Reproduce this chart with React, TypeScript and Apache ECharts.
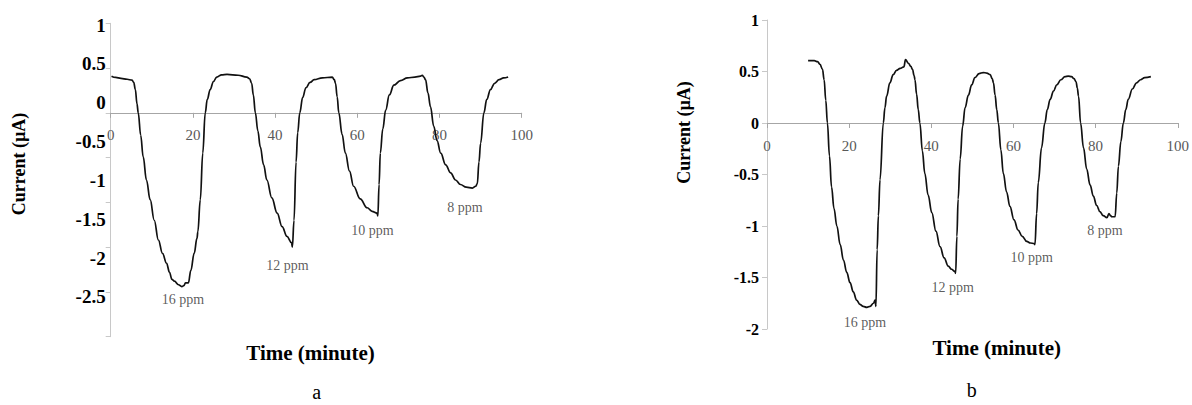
import React, { useEffect, useRef } from "react";
import * as echarts from "echarts";

// ---- Panel a data (time in minutes, current in µA) ----
const timeA = [0.2, 1.2, 2.5, 4.0, 5.2, 5.6, 6.0, 6.4, 6.7, 7.3, 7.9, 8.7, 9.6, 10.6, 11.6, 12.6, 13.6, 14.3, 14.9, 15.5, 16.5, 17.3, 17.8, 18.2, 18.9, 19.5, 20.3, 21.0, 21.2, 21.8, 22.4, 23.0, 23.5, 24.2, 25.0, 25.8, 27.0, 28.3, 31.0, 33.1, 33.8, 34.3, 34.7, 35.2, 35.8, 36.4, 37.2, 38.0, 39.2, 40.5, 41.7, 42.9, 44.0, 44.2, 44.6, 45.1, 45.5, 46.0, 46.7, 47.5, 48.5, 49.5, 51.5, 53.9, 54.4, 54.7, 55.1, 55.5, 56.3, 57.1, 58.1, 59.1, 60.7, 62.4, 63.6, 64.8, 65.0, 65.3, 65.6, 66.2, 66.9, 67.8, 68.9, 70.5, 72.2, 74.0, 75.4, 75.8, 76.2, 76.6, 77.2, 77.8, 78.6, 79.4, 80.3, 81.5, 82.7, 83.9, 85.1, 86.5, 88.0, 88.8, 89.2, 89.6, 90.0, 90.8, 91.5, 92.4, 93.4, 94.5, 95.6, 96.7];
const currentA = [0.41, 0.395, 0.385, 0.375, 0.365, 0.34, 0.26, 0.1, 0.0, -0.25, -0.49, -0.75, -0.97, -1.2, -1.42, -1.57, -1.68, -1.78, -1.86, -1.88, -1.92, -1.94, -1.93, -1.9, -1.9, -1.76, -1.57, -1.4, -1.33, -0.97, -0.45, 0.0, 0.15, 0.26, 0.35, 0.4, 0.425, 0.43, 0.42, 0.4, 0.38, 0.33, 0.2, 0.0, -0.2, -0.38, -0.58, -0.75, -0.95, -1.12, -1.27, -1.38, -1.45, -1.5, -1.2, -0.55, -0.22, 0.0, 0.17, 0.28, 0.34, 0.37, 0.39, 0.4, 0.37, 0.33, 0.18, 0.0, -0.24, -0.45, -0.65, -0.82, -0.96, -1.06, -1.1, -1.12, -1.15, -0.8, -0.45, -0.18, 0.03, 0.2, 0.31, 0.36, 0.39, 0.4, 0.41, 0.42, 0.4, 0.37, 0.22, 0.07, -0.15, -0.31, -0.45, -0.58, -0.67, -0.75, -0.8, -0.83, -0.84, -0.82, -0.79, -0.55, -0.34, 0.0, 0.15, 0.26, 0.33, 0.37, 0.39, 0.4];

// ---- Panel b data ----
const timeB = [10.0, 11.5, 12.3, 12.9, 13.5, 13.9, 14.3, 14.7, 15.2, 15.7, 16.3, 17.0, 17.8, 18.6, 19.4, 20.2, 21.0, 21.8, 22.6, 23.4, 24.3, 25.1, 25.9, 26.3, 26.5, 26.8, 27.1, 27.5, 28.3, 28.7, 29.1, 29.9, 30.7, 31.5, 32.4, 33.3, 33.7, 34.4, 35.0, 35.4, 35.8, 36.0, 36.4, 36.8, 37.2, 37.8, 38.4, 39.2, 40.1, 41.1, 42.1, 43.1, 44.1, 44.9, 45.7, 45.9, 46.2, 46.5, 47.0, 47.6, 48.2, 49.0, 49.8, 50.6, 51.6, 52.6, 53.5, 54.3, 54.8, 55.1, 55.5, 55.9, 56.3, 56.9, 57.5, 58.3, 59.1, 60.1, 61.1, 62.1, 63.2, 64.1, 65.0, 65.2, 65.6, 66.0, 66.8, 67.6, 68.2, 68.9, 69.7, 70.5, 71.5, 72.5, 73.3, 74.1, 74.7, 75.2, 75.5, 75.8, 76.3, 77.0, 77.8, 78.6, 79.4, 80.2, 81.0, 81.8, 82.7, 83.2, 83.6, 83.9, 84.7, 85.1, 85.5, 86.1, 86.7, 87.3, 87.9, 88.9, 89.9, 90.9, 91.9, 93.4];
const currentB = [0.605, 0.605, 0.595, 0.57, 0.52, 0.42, 0.22, 0.0, -0.32, -0.62, -0.83, -1.0, -1.18, -1.33, -1.45, -1.55, -1.64, -1.72, -1.76, -1.78, -1.79, -1.78, -1.75, -1.72, -1.78, -1.23, -0.9, -0.55, 0.0, 0.15, 0.26, 0.39, 0.47, 0.51, 0.53, 0.545, 0.615, 0.58, 0.55, 0.52, 0.46, 0.42, 0.28, 0.13, 0.0, -0.27, -0.49, -0.7, -0.87, -1.05, -1.2, -1.31, -1.39, -1.42, -1.44, -1.46, -1.1, -0.74, -0.35, -0.03, 0.15, 0.27, 0.37, 0.44, 0.48, 0.49, 0.485, 0.47, 0.43, 0.39, 0.27, 0.13, 0.0, -0.26, -0.49, -0.67, -0.81, -0.94, -1.04, -1.1, -1.15, -1.165, -1.17, -1.18, -0.88, -0.58, -0.24, 0.0, 0.13, 0.23, 0.31, 0.37, 0.42, 0.45, 0.455, 0.45, 0.43, 0.4, 0.34, 0.26, 0.0, -0.24, -0.45, -0.6, -0.71, -0.8, -0.86, -0.9, -0.92, -0.88, -0.9, -0.91, -0.91, -0.68, -0.42, -0.18, 0.0, 0.13, 0.23, 0.33, 0.39, 0.42, 0.44, 0.45];

// ---- Ticks ----
const xTicks = [0, 20, 40, 60, 80, 100];
const yTicksA = [1, 0.5, 0, -0.5, -1, -1.5, -2, -2.5];
const yTicksB = [1, 0.5, 0, -0.5, -1, -1.5, -2];

// ---- Annotations ----
const annoText = ["16 ppm", "12 ppm", "10 ppm", "8 ppm"];
const annoAX = [17.6, 43.0, 63.7, 86.2];
const annoAY = [-2.09, -1.71, -1.31, -1.06];
const annoBX = [23.8, 45.2, 64.4, 82.2];
const annoBY = [-1.94, -1.6, -1.31, -1.04];

const SERIF = "'Times New Roman', 'Liberation Serif', serif";

// layout of the two panels
const gA = { left: 110.7, top: 23.3, width: 411, height: 313.4 };
const gB = { left: 767, top: 20, width: 411, height: 309 };
// label-axis range for panel a (its printed labels are spaced differently from its ticks)
const labelAxisA = { min: -3.0109, max: 1.0219 };

export default function App() {
  const ref = useRef<HTMLDivElement>(null);
  useEffect(() => {
    if (!ref.current) return;
    const chart = echarts.init(ref.current, undefined, { renderer: "svg" });
    const yMinA = yTicksA[yTicksA.length - 1];
    const yMaxA = yTicksA[0];
    const yMinB = yTicksB[yTicksB.length - 1];
    const yMaxB = yTicksB[0];
    // strips whose bottom edge is the zero line: they carry the visible x-axis
    const zeroStripA = { left: gA.left, top: gA.top, width: gA.width, height: (gA.height * yMaxA) / (yMaxA - yMinA) };
    const zeroStripB = { left: gB.left, top: gB.top, width: gB.width, height: (gB.height * yMaxB) / (yMaxB - yMinB) };

    const xMin = xTicks[0];
    const xMax = xTicks[xTicks.length - 1];
    const hiddenX = (gi: number) => ({ gridIndex: gi, type: "value", min: xMin, max: xMax, show: false });
    const visibleX = (gi: number) => ({
      gridIndex: gi,
      type: "value",
      position: "bottom",
      min: xMin,
      max: xMax,
      interval: 20,
      axisLine: { show: true, onZero: false, lineStyle: { color: "#a6a6a6", width: 1 } },
      axisTick: { show: true, length: 5, lineStyle: { color: "#a6a6a6" } },
      axisLabel: { color: "#595959", fontFamily: SERIF, fontSize: 15, margin: 15 },
      splitLine: { show: false },
    });
    const hiddenY = (gi: number) => ({ gridIndex: gi, type: "value", min: 0, max: 1, show: false });
    const annoLabel = { show: true, position: "inside", formatter: "{b}", fontFamily: SERIF, fontSize: 14, color: "#333" };

    chart.setOption({
      animation: false,
      backgroundColor: "#ffffff",
      grid: [gA, gB, zeroStripA, zeroStripB],
      xAxis: [hiddenX(0), hiddenX(1), visibleX(2), visibleX(3)],
      yAxis: [
        {
          gridIndex: 0,
          type: "value",
          position: "left",
          min: yMinA,
          max: yMaxA,
          interval: 0.5,
          axisLine: { show: true, onZero: false, lineStyle: { color: "#c8c8c8" } },
          axisTick: { show: true, length: 5, lineStyle: { color: "#c8c8c8" } },
          axisLabel: { show: false },
          splitLine: { show: false },
        },
        {
          gridIndex: 0,
          type: "value",
          position: "left",
          offset: 0,
          min: labelAxisA.min,
          max: labelAxisA.max,
          axisLine: { show: false },
          axisTick: { show: false },
          splitLine: { show: false },
          axisLabel: {
            customValues: yTicksA,
            color: "#000",
            fontFamily: SERIF,
            fontWeight: "bold",
            fontSize: 19,
            margin: 5,
          },
        },
        {
          gridIndex: 1,
          type: "value",
          position: "left",
          min: yMinB,
          max: yMaxB,
          interval: 0.5,
          axisLine: { show: true, onZero: false, lineStyle: { color: "#c8c8c8" } },
          axisTick: { show: true, length: 5, lineStyle: { color: "#c8c8c8" } },
          axisLabel: {
            customValues: yTicksB,
            color: "#000",
            fontFamily: SERIF,
            fontWeight: "bold",
            fontSize: 16,
            margin: 8,
          },
          splitLine: { show: false },
        },
        hiddenY(2),
        hiddenY(3),
      ],
      series: [
        {
          type: "line",
          xAxisIndex: 0,
          yAxisIndex: 0,
          data: timeA.map((t, i) => [t, currentA[i]]),
          showSymbol: false,
          smooth: 0.4,
          smoothMonotone: "x",
          lineStyle: { color: "#111", width: 1.7 },
        },
        {
          type: "line",
          xAxisIndex: 1,
          yAxisIndex: 2,
          data: timeB.map((t, i) => [t, currentB[i]]),
          showSymbol: false,
          smooth: 0.4,
          smoothMonotone: "x",
          lineStyle: { color: "#111", width: 1.7 },
        },
        {
          type: "scatter",
          xAxisIndex: 0,
          yAxisIndex: 0,
          symbolSize: 0,
          data: annoText.map((n, i) => ({ name: n, value: [annoAX[i], annoAY[i]] })),
          label: annoLabel,
        },
        {
          type: "scatter",
          xAxisIndex: 1,
          yAxisIndex: 2,
          symbolSize: 0,
          data: annoText.map((n, i) => ({ name: n, value: [annoBX[i], annoBY[i]] })),
          label: annoLabel,
        },
      ],
      graphic: [
        {
          type: "text",
          x: 18.8,
          y: 164,
          rotation: Math.PI / 2,
          style: { text: "Current (µA)", font: `bold 18px ${SERIF}`, fill: "#000", textAlign: "center", textVerticalAlign: "middle" },
        },
        {
          type: "text",
          x: 683.7,
          y: 132.5,
          rotation: Math.PI / 2,
          style: { text: "Current (µA)", font: `bold 18px ${SERIF}`, fill: "#000", textAlign: "center", textVerticalAlign: "middle" },
        },
        {
          type: "text",
          x: 310.5,
          y: 353,
          style: { text: "Time (minute)", font: `bold 21px ${SERIF}`, fill: "#000", textAlign: "center", textVerticalAlign: "middle" },
        },
        {
          type: "text",
          x: 996.7,
          y: 348,
          style: { text: "Time (minute)", font: `bold 21px ${SERIF}`, fill: "#000", textAlign: "center", textVerticalAlign: "middle" },
        },
        {
          type: "text",
          x: 316.7,
          y: 392,
          style: { text: "a", font: `20px ${SERIF}`, fill: "#000", textAlign: "center", textVerticalAlign: "middle" },
        },
        {
          type: "text",
          x: 971.7,
          y: 390,
          style: { text: "b", font: `20px ${SERIF}`, fill: "#000", textAlign: "center", textVerticalAlign: "middle" },
        },
      ],
    });
    return () => chart.dispose();
  }, []);
  return <div ref={ref} style={{ position: "absolute", left: 0, top: 0, width: 1192, height: 405 }} />;
}
